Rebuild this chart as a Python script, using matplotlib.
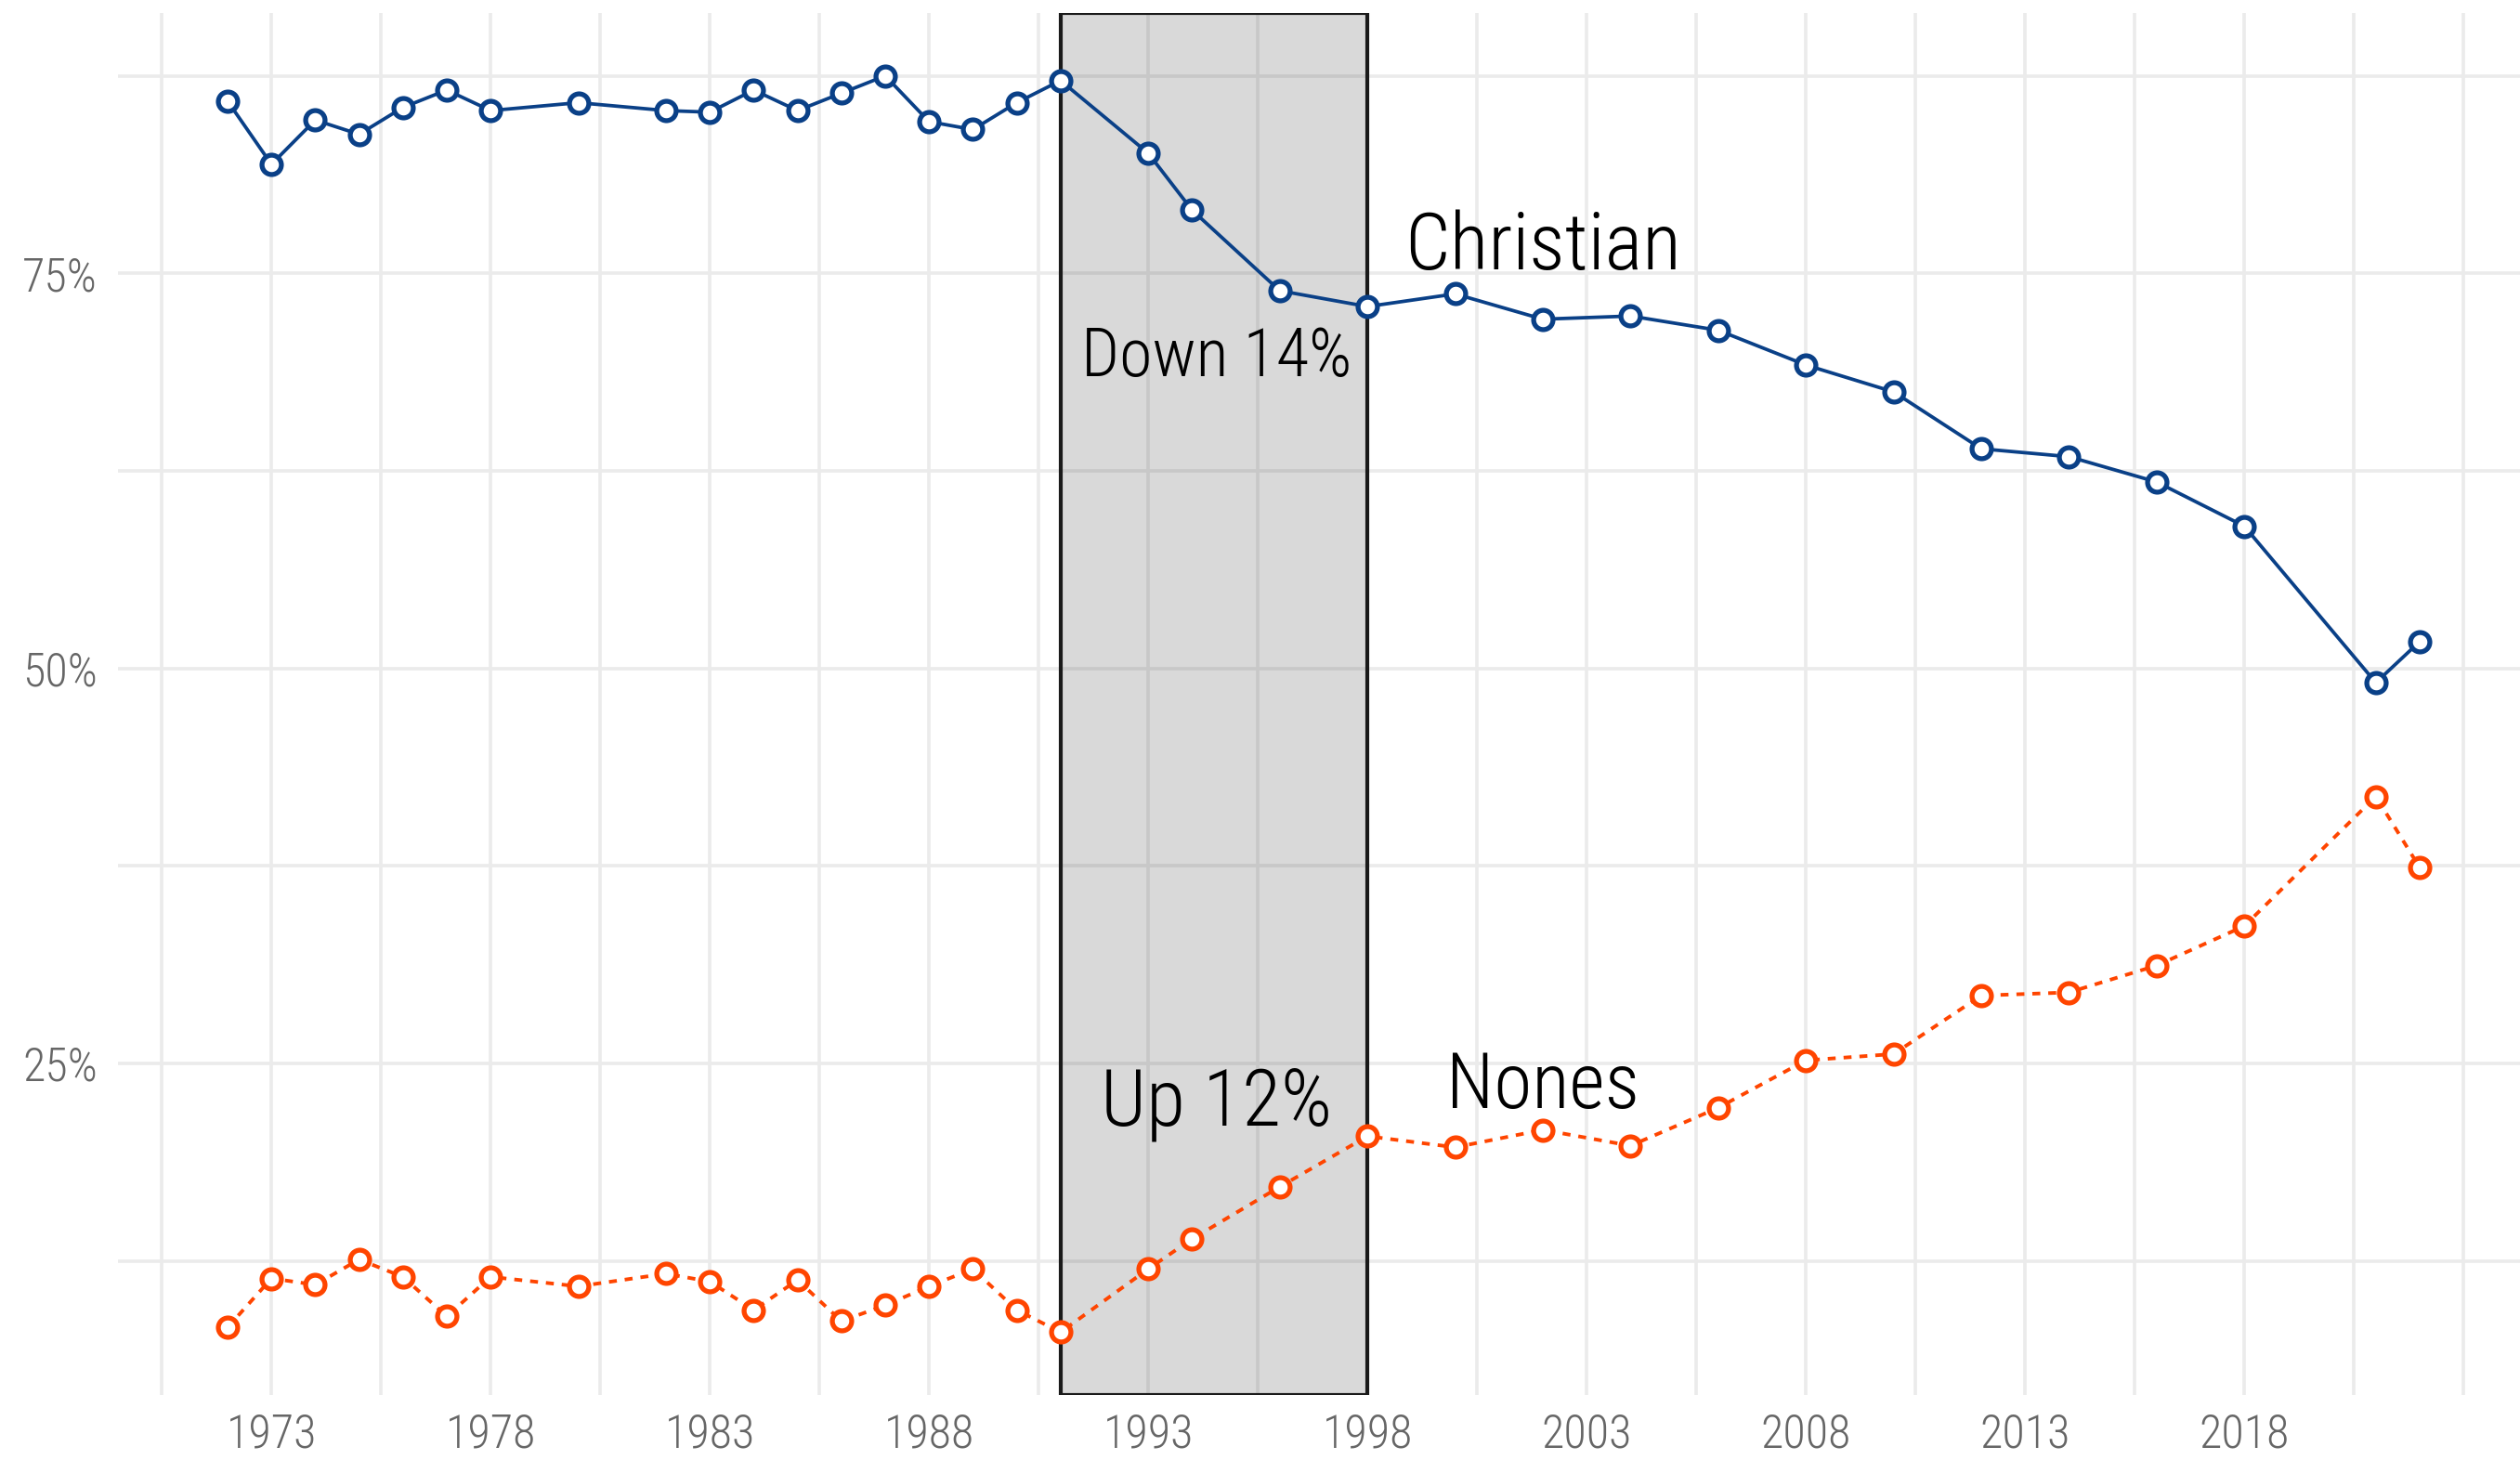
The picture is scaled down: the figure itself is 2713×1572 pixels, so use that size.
import matplotlib
matplotlib.use("Agg")
import matplotlib.pyplot as plt
from matplotlib import font_manager as fm

# data (GSS survey years)
years = [1972, 1973, 1974, 1975, 1976, 1977, 1978, 1980, 1982, 1983, 1984,
         1985, 1986, 1987, 1988, 1989, 1990, 1991, 1993, 1994, 1996, 1998,
         2000, 2002, 2004, 2006, 2008, 2010, 2012, 2014, 2016, 2018, 2021, 2022]
christian = [85.9, 81.9, 84.7, 83.8, 85.5, 86.6, 85.3, 85.8, 85.3, 85.2, 86.6,
             85.3, 86.4, 87.5, 84.6, 84.1, 85.8, 87.2, 82.6, 79.0, 73.9, 72.9,
             73.7, 72.1, 72.3, 71.4, 69.2, 67.5, 63.9, 63.4, 61.8, 59.0, 49.1, 51.7]
nones = [8.3, 11.4, 11.0, 12.6, 11.5, 9.0, 11.5, 10.9, 11.7, 11.2, 9.4,
         11.3, 8.7, 9.7, 10.9, 12.0, 9.4, 8.0, 12.0, 13.9, 17.2, 20.4,
         19.7, 20.8, 19.8, 22.2, 25.2, 25.6, 29.3, 29.5, 31.2, 33.7, 41.9, 37.4]
x_ticks = [1973, 1978, 1983, 1988, 1993, 1998, 2003, 2008, 2013, 2018, 2023]
x_labels = ["1973", "1978", "1983", "1988", "1993", "1998", "2003", "2008", "2013", "2018", ""]
y_ticks = [25, 50, 75]
y_labels = ["25%", "50%", "75%"]
span = (1991, 1998)

# pick a narrow font if one is installed
avail = {f.name for f in fm.fontManager.ttflist}
narrow = "DejaVu Sans"
for name in ["Roboto Condensed", "Liberation Sans Narrow", "Open Sans Condensed"]:
    if name in avail:
        narrow = name
        break
plt.rcParams["font.family"] = [narrow, "DejaVu Sans"]

blue = "#0A4087"
orange = "#FF4500"
grid_c = "#EBEBEB"

fig = plt.figure(figsize=(27.13, 15.72), dpi=100)
ax = fig.add_axes([127 / 2713, 70 / 1572, (2723 - 127) / 2713, 1488 / 1572])

rng = max(christian) - min(nones)
ax.set_xlim(1969.5, 2024.5)
ax.set_ylim(min(nones) - 0.05 * rng, max(christian) + 0.05 * rng)

# grid, major + minor
ax.set_xticks(x_ticks)
ax.set_xticklabels(x_labels)
ax.set_xticks([t - 2.5 for t in x_ticks], minor=True)
ax.set_yticks(y_ticks)
ax.set_yticklabels(y_labels)
ax.set_yticks([12.5, 37.5, 62.5, 87.5], minor=True)
ax.grid(True, which="both", color=grid_c, linewidth=2.6, zorder=0)
ax.set_axisbelow(True)
for s in ax.spines.values():
    s.set_visible(False)
ax.tick_params(which="both", length=0)
ax.tick_params(axis="x", pad=14, labelsize=36, labelcolor="#666666")
ax.tick_params(axis="y", pad=16, labelsize=36, labelcolor="#666666")
for lab in ax.get_xticklabels() + ax.get_yticklabels():
    lab.set_fontweight("light")

# shaded period
ax.axvspan(span[0], span[1], facecolor=(0, 0, 0, 0.15), edgecolor="#1a1a1a",
           linewidth=3.0, zorder=1)

ax.plot(years, christian, color=blue, linewidth=2.7, marker="o", markersize=15,
        markerfacecolor="white", markeredgecolor=blue, markeredgewidth=3.8, zorder=3)
ax.plot(years, nones, color=orange, linewidth=2.8, linestyle=(0, (2.2, 2.2)),
        marker="o", markersize=15, markerfacecolor="white",
        markeredgecolor=orange, markeredgewidth=3.8, zorder=3)

txt = dict(ha="center", va="baseline", color="black", fontweight="light")
ax.text(2002.0, 75.25, "Christian", fontsize=62, **txt)
ax.text(2002.0, 22.17, "Nones", fontsize=60, **txt)
ax.text(1994.56, 68.49, "Down 14%", fontsize=52, **txt)
ax.text(1994.56, 21.09, "Up 12%", fontsize=62, **txt)

fig.savefig("out.png", dpi=100, facecolor="white")
